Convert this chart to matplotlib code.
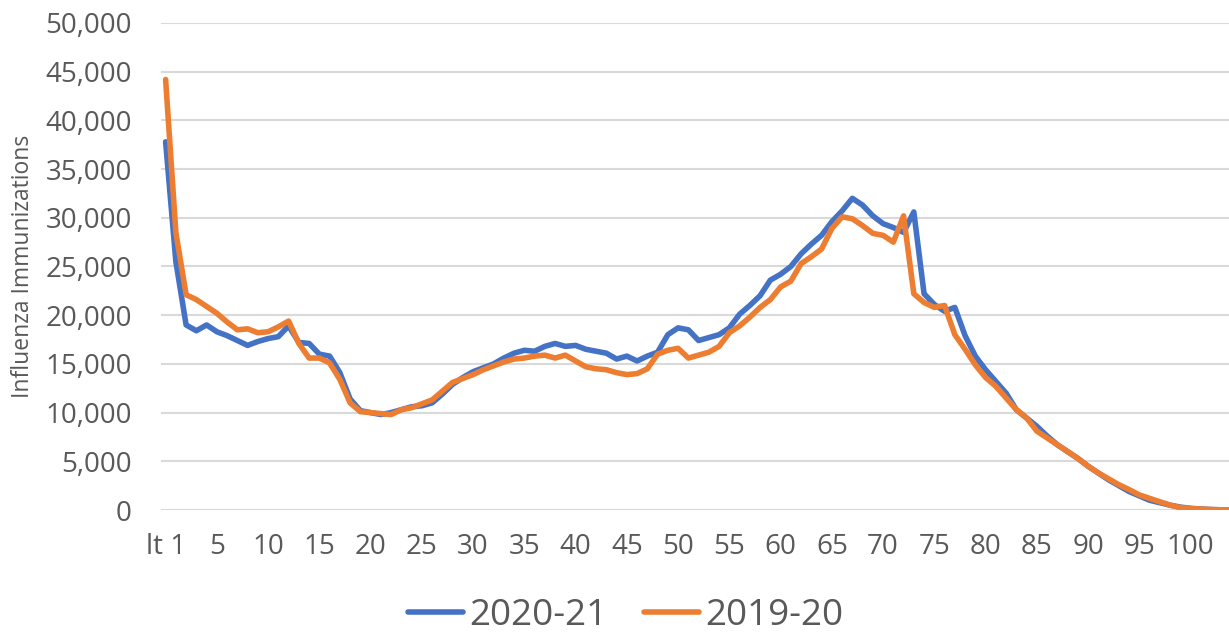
import matplotlib.pyplot as plt
from matplotlib.ticker import FuncFormatter

# age categories: "lt 1" then 1..104
ages = ["lt 1"] + [str(a) for a in range(1, 105)]

# Influenza immunizations by age, 2020-21 season
imm_2020_21 = [
    37800, 25500, 19000, 18400, 19000, 18300, 17900, 17400, 16900, 17300,
    17600, 17800, 18900, 17200, 17100, 16000, 15800, 14100, 11400, 10200,
    10000, 9800, 10000, 10300, 10600, 10700, 11000, 11900, 12900, 13600,
    14200, 14600, 15000, 15600, 16100, 16400, 16300, 16800, 17100, 16800,
    16900, 16500, 16300, 16100, 15500, 15800, 15300, 15800, 16200, 18000,
    18700, 18500, 17400, 17700, 18000, 18700, 20100, 21000, 22000, 23600,
    24200, 25000, 26300, 27300, 28200, 29600, 30700, 32000, 31300, 30200,
    29400, 29000, 28500, 30600, 22200, 21100, 20400, 20800, 17900, 15800,
    14400, 13200, 12000, 10300, 9450, 8600, 7600, 6700, 6000, 5300,
    4500, 3800, 3100, 2500, 1900, 1450, 1000, 750, 500, 300,
    170, 100, 50, 20, 10,
]

# Influenza immunizations by age, 2019-20 season
imm_2019_20 = [
    44200, 28500, 22100, 21600, 20900, 20200, 19300, 18500, 18600, 18200,
    18300, 18800, 19400, 17100, 15600, 15600, 15100, 13400, 11000, 10100,
    10000, 9900, 9800, 10300, 10500, 10900, 11300, 12200, 13100, 13500,
    13900, 14400, 14800, 15200, 15500, 15600, 15800, 15900, 15600, 15900,
    15300, 14700, 14500, 14400, 14100, 13900, 14000, 14500, 16000, 16400,
    16600, 15600, 15900, 16200, 16800, 18200, 18900, 19800, 20800, 21600,
    22900, 23500, 25300, 26000, 26800, 28900, 30100, 29900, 29200, 28400,
    28200, 27500, 30200, 22200, 21300, 20800, 21000, 18000, 16500, 14900,
    13600, 12700, 11500, 10300, 9450, 8100, 7400, 6700, 6000, 5300,
    4500, 3800, 3200, 2600, 2100, 1550, 1200, 850, 500, 250,
    150, 100, 50, 20, 10,
]

text_color = "#595959"
plt.rcParams["font.family"] = ["Open Sans", "DejaVu Sans"]

fig = plt.figure(figsize=(12.29, 6.42), dpi=100)
# plot area: x 161..1229 px, y 23..510 px
ax = fig.add_axes([0.131, 0.2056, 0.869, 0.7586])

x = list(range(len(ages)))
ax.plot(x, imm_2020_21, color="#4472C4", linewidth=4.0,
        solid_joinstyle="round", solid_capstyle="round", label="2020-21")
ax.plot(x, imm_2019_20, color="#ED7D31", linewidth=4.0,
        solid_joinstyle="round", solid_capstyle="round", label="2019-20")

ax.set_ylim(0, 50000)
ax.set_xlim(-0.45, 103.75)
ax.set_yticks(range(0, 50001, 5000))
ax.yaxis.set_major_formatter(FuncFormatter(lambda v, p: f"{int(v):,}"))
ax.set_xticks(x[::5])
ax.set_xticklabels(ages[::5])

ax.grid(axis="y", color="#d9d9d9", linewidth=1.5)
ax.set_axisbelow(True)
for s in ax.spines.values():
    s.set_visible(False)
ax.tick_params(axis="both", length=0, labelsize=20, colors=text_color)
ax.tick_params(axis="y", pad=21)
ax.tick_params(axis="x", pad=16.5)

ax.set_ylabel("Influenza Immunizations", fontsize=16.5, color=text_color)
ax.yaxis.set_label_coords(-0.118, 0.5)

# legend kept just inside the bottom edge
leg = fig.legend(loc="center", bbox_to_anchor=(0.509, 0.041), ncol=2,
                 frameon=False, fontsize=26.5, handlelength=1.5,
                 handletextpad=0.17, columnspacing=1.0, borderpad=0)
for t in leg.get_texts():
    t.set_color(text_color)

fig.savefig("out.png", dpi=100)
